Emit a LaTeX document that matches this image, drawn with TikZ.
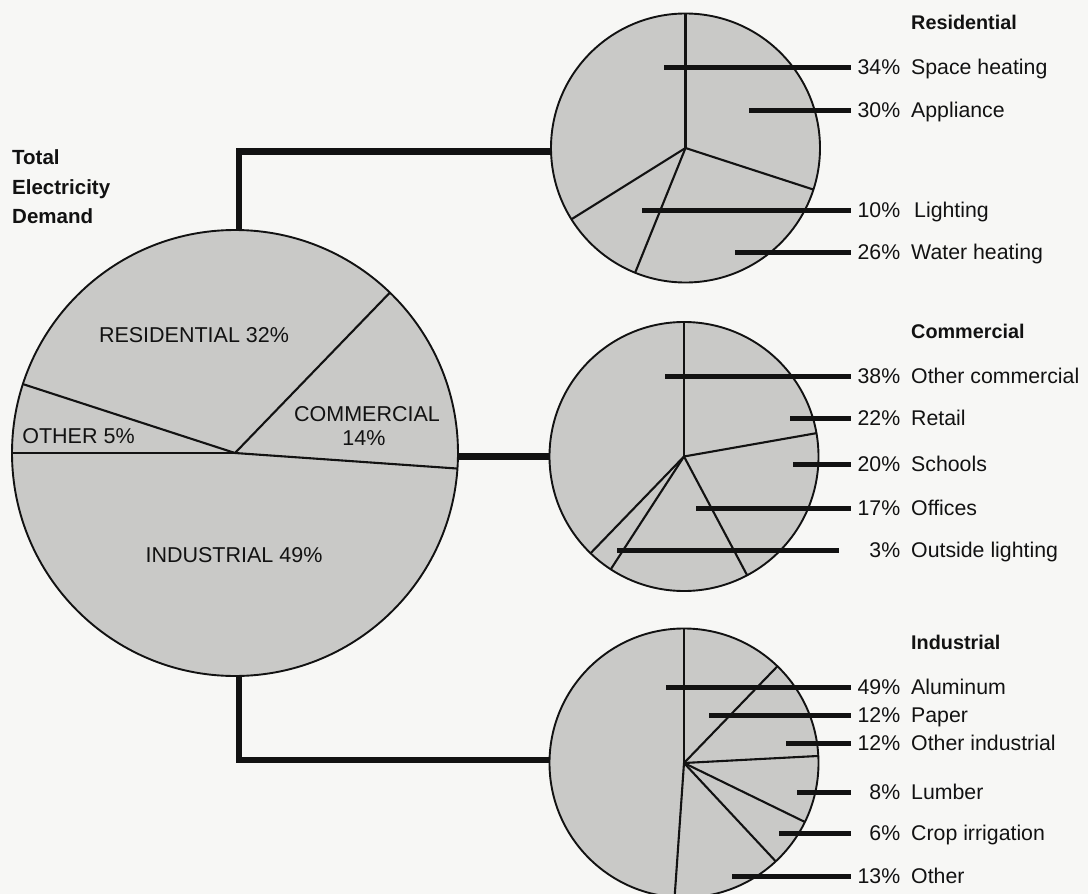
\documentclass[tikz,border=0pt]{standalone}
\usepackage{fontspec}
\setmainfont{Liberation Sans}
\definecolor{piegray}{RGB}{201,201,199}
\definecolor{paper}{RGB}{247,247,245}
\definecolor{ink}{RGB}{18,18,18}
\newcommand\plab[2]{\makebox[49pt][r]{#1}\hspace{11pt}#2}
\begin{document}
\begin{tikzpicture}[x=1pt,y=-1pt,
  pie/.style={circle, draw=ink, fill=piegray, line width=1.9pt, inner sep=0pt, outer sep=0pt},
  sect/.style={draw=ink, line width=2.1pt},
  leader/.style={draw=ink, line width=5pt},
  link/.style={draw=ink, line width=6.5pt, line join=miter},
  lab/.style={anchor=west, inner sep=0pt, text height=15pt, text depth=0pt, font=\fontsize{21.3}{25}\selectfont, text=ink},
  ttl/.style={anchor=west, inner sep=0pt, text height=14pt, text depth=0pt, font=\bfseries\fontsize{19.8}{24}\selectfont, text=ink},
  biglab/.style={inner sep=0pt, text height=15.5pt, text depth=0pt, font=\fontsize{21.5}{26}\selectfont, text=ink}
]
\clip (0,0) rectangle (1088,894);
\fill[paper] (0,0) rectangle (1088,894);

% pies
\node[pie, minimum size=446pt] (big) at (235,453) {};
\node[pie, minimum size=269pt] (res) at (685.5,148) {};
\node[pie, minimum size=269pt] (com) at (684,456.5) {};
\node[pie, minimum size=269pt] (ind) at (684,763) {};

% sector boundaries
\foreach \a in {180,356.4,46.8,162} \draw[sect] (big.center) -- (big.\a);
\foreach \a in {90,342,248.4,212.4} \draw[sect] (res.center) -- (res.\a);
\foreach \a in {90,10.8,298.8,237.6,226.8} \draw[sect] (com.center) -- (com.\a);
\foreach \a in {90,46.8,3.6,334.8,313.2,266.4} \draw[sect] (ind.center) -- (ind.\a);

% connectors
\draw[link] ([xshift=4pt]big.north) |- ([yshift=-3.7pt]res.west);
\draw[link] (com.west -| big.east) -- (com.west);
\draw[link] ([xshift=4pt]big.south) |- ([yshift=3pt]ind.west);

% big pie labels
\node[anchor=north west, inner sep=0pt, align=left, text=ink,
      font=\bfseries\fontsize{20.5}{29.5}\selectfont] (total) at (12,149.5)
      {Total\\Electricity\\Demand};
\node[biglab] (bres) at (194,335) {RESIDENTIAL 32\%};
\node[biglab] (bcom) at (367,414) {COMMERCIAL};
\node[biglab] (bcomp) at (364,438) {14\%};
\node[biglab] (both) at (78.5,436) {OTHER 5\%};
\node[biglab] (bind) at (234,555) {INDUSTRIAL 49\%};

% titles
\node[ttl] (tres) at (911,22.7) {Residential};
\node[ttl] (tcom) at (911,331) {Commercial};
\node[ttl] (tind) at (911,642) {Industrial};

% residential labels
\coordinate (r1) at (664,67);
\coordinate (r2) at (749,110);
\coordinate (r3) at (642,210);
\coordinate (r4) at (735,252);
\node[lab] (lr1) at (851,67) {\plab{34\%}{Space heating}};
\node[lab] (lr2) at (851,110) {\plab{30\%}{Appliance}};
\node[lab] (lr3) at (851,210) {\plab{10\%}{\hspace{3pt}Lighting}};
\node[lab] (lr4) at (851,252) {\plab{26\%}{Water heating}};
\foreach \i in {1,...,4} \draw[leader] (r\i) -- (lr\i.west);

% commercial labels
\coordinate (c1) at (665,376);
\coordinate (c2) at (790,418);
\coordinate (c3) at (793,464);
\coordinate (c4) at (696,508);
\coordinate (c5) at (617,550);
\node[lab] (lc1) at (851,376) {\plab{38\%}{Other commercial}};
\node[lab] (lc2) at (851,418) {\plab{22\%}{Retail}};
\node[lab] (lc3) at (851,464) {\plab{20\%}{Schools}};
\node[lab] (lc4) at (851,508) {\plab{17\%}{Offices}};
\node[lab] (lc5) at (851,550) {\plab{3\%}{Outside lighting}};
\foreach \i in {1,...,4} \draw[leader] (c\i) -- (lc\i.west);
\draw[leader, shorten >=12pt] (c5) -- (lc5.west);

% industrial labels
\coordinate (i1) at (666,687);
\coordinate (i2) at (709,715);
\coordinate (i3) at (786,743);
\coordinate (i4) at (797,792);
\coordinate (i5) at (779,833);
\coordinate (i6) at (732,876);
\node[lab] (li1) at (851,687) {\plab{49\%}{Aluminum}};
\node[lab] (li2) at (851,715) {\plab{12\%}{Paper}};
\node[lab] (li3) at (851,743) {\plab{12\%}{Other industrial}};
\node[lab] (li4) at (851,792) {\plab{8\%}{Lumber}};
\node[lab] (li5) at (851,833) {\plab{6\%}{Crop irrigation}};
\node[lab] (li6) at (851,876) {\plab{13\%}{Other}};
\foreach \i in {1,...,6} \draw[leader] (i\i) -- (li\i.west);
\end{tikzpicture}
\end{document}
